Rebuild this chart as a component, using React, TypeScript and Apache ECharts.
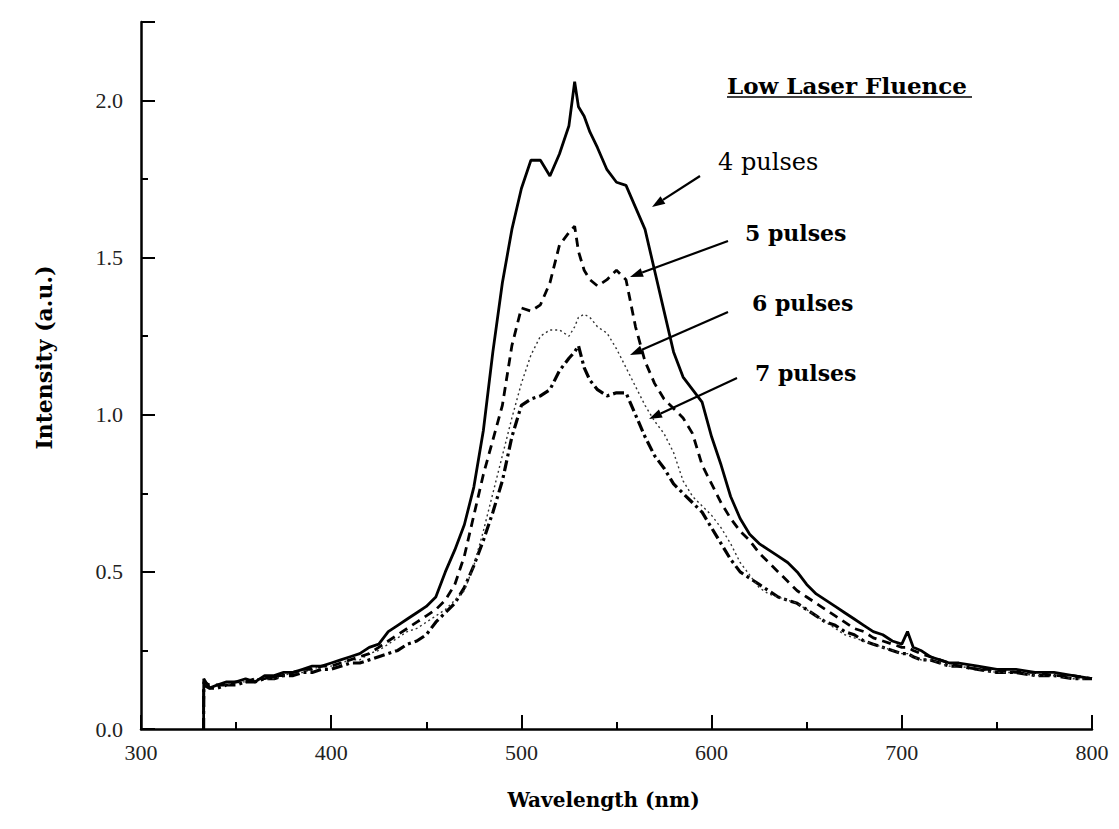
import React, { useEffect, useRef } from "react";
import * as echarts from "echarts";

const wavelengths = [
  332.9, 333, 336, 340, 345, 350, 355, 360, 365, 370, 375, 380, 385, 390, 395, 400,
  405, 410, 415, 420, 425, 430, 435, 440, 445, 450, 455, 460, 465, 470, 475, 480,
  485, 490, 495, 500, 505, 510, 515, 520, 525, 528, 530, 533, 536, 540, 545, 550,
  555, 560, 565, 570, 575, 580, 585, 590, 595, 600, 605, 610, 615, 620, 625, 630,
  635, 640, 645, 650, 655, 660, 665, 670, 675, 680, 685, 690, 695, 700, 703, 706,
  710, 715, 720, 725, 730, 740, 750, 760, 770, 780, 790, 800,
];

const pulses4 = [
  0, 0.16, 0.13, 0.14, 0.15, 0.15, 0.16, 0.15, 0.17, 0.17, 0.18, 0.18, 0.19, 0.2, 0.2, 0.21,
  0.22, 0.23, 0.24, 0.26, 0.27, 0.31, 0.33, 0.35, 0.37, 0.39, 0.42, 0.5, 0.57, 0.65, 0.77, 0.95,
  1.2, 1.42, 1.59, 1.72, 1.81, 1.81, 1.76, 1.83, 1.92, 2.06, 1.98, 1.95, 1.9, 1.85, 1.78, 1.74,
  1.73, 1.66, 1.59, 1.46, 1.33, 1.2, 1.12, 1.08, 1.04, 0.93, 0.84, 0.74, 0.67, 0.62, 0.59, 0.57,
  0.55, 0.53, 0.5, 0.46, 0.43, 0.41, 0.39, 0.37, 0.35, 0.33, 0.31, 0.3, 0.28, 0.27, 0.31, 0.26,
  0.25, 0.23, 0.22, 0.21, 0.21, 0.2, 0.19, 0.19, 0.18, 0.18, 0.17, 0.16,
];

const pulses5 = [
  0, 0.15, 0.14, 0.14, 0.14, 0.15, 0.15, 0.16, 0.16, 0.17, 0.17, 0.18, 0.19, 0.19, 0.2, 0.2,
  0.21, 0.22, 0.23, 0.24, 0.26, 0.28, 0.3, 0.32, 0.34, 0.36, 0.38, 0.41, 0.46, 0.55, 0.68, 0.81,
  0.92, 1.03, 1.22, 1.34, 1.33, 1.35, 1.42, 1.54, 1.58, 1.6, 1.52, 1.46, 1.43, 1.41, 1.43, 1.46,
  1.43, 1.28, 1.17, 1.1, 1.05, 1.02, 0.99, 0.94, 0.84, 0.78, 0.72, 0.67, 0.63, 0.6, 0.56, 0.53,
  0.5, 0.47, 0.44, 0.42, 0.4, 0.38, 0.36, 0.34, 0.32, 0.31, 0.29, 0.28, 0.27, 0.26, 0.26, 0.25,
  0.24, 0.23, 0.22, 0.21, 0.2, 0.19, 0.19, 0.18, 0.18, 0.17, 0.17, 0.16,
];

const pulses6 = [
  0, 0.15, 0.13, 0.14, 0.14, 0.15, 0.15, 0.16, 0.16, 0.16, 0.17, 0.18, 0.18, 0.19, 0.2, 0.2,
  0.21, 0.22, 0.22, 0.24, 0.25, 0.27, 0.29, 0.31, 0.32, 0.34, 0.36, 0.38, 0.41, 0.44, 0.52, 0.63,
  0.75, 0.87, 0.99, 1.1, 1.19, 1.25, 1.27, 1.27, 1.25, 1.28, 1.31, 1.32, 1.31, 1.28, 1.26, 1.21,
  1.15, 1.09, 1.03, 0.98, 0.94, 0.88, 0.79, 0.74, 0.71, 0.68, 0.64, 0.59, 0.53, 0.49, 0.45, 0.43,
  0.42, 0.41, 0.4, 0.38, 0.36, 0.34, 0.32, 0.3, 0.29, 0.28, 0.27, 0.26, 0.25, 0.24, 0.24, 0.23,
  0.22, 0.22, 0.21, 0.2, 0.2, 0.19, 0.18, 0.18, 0.17, 0.17, 0.16, 0.16,
];

const pulses7 = [
  0, 0.14, 0.13, 0.13, 0.14, 0.14, 0.15, 0.15, 0.16, 0.16, 0.17, 0.17, 0.18, 0.18, 0.19, 0.19,
  0.2, 0.21, 0.21, 0.22, 0.23, 0.24, 0.25, 0.27, 0.28, 0.3, 0.34, 0.37, 0.4, 0.45, 0.52, 0.6,
  0.69, 0.79, 0.93, 1.03, 1.05, 1.06, 1.08, 1.14, 1.18, 1.2, 1.22, 1.15, 1.11, 1.08, 1.06, 1.07,
  1.07, 1.0, 0.93, 0.87, 0.83, 0.78, 0.75, 0.72, 0.69, 0.64, 0.59, 0.54, 0.5, 0.48, 0.46, 0.44,
  0.42, 0.41, 0.4, 0.38, 0.36, 0.34, 0.33, 0.31, 0.3, 0.28, 0.27, 0.26, 0.25, 0.24, 0.24, 0.23,
  0.22, 0.22, 0.21, 0.2, 0.2, 0.19, 0.18, 0.18, 0.17, 0.17, 0.16, 0.16,
];

const seriesNames = ["4 pulses", "5 pulses", "6 pulses", "7 pulses"];
const xTicks = [300, 400, 500, 600, 700, 800];
const yTicks = [0.0, 0.5, 1.0, 1.5, 2.0];
const titleText = "Low Laser Fluence";
const xName = "Wavelength (nm)";
const yName = "Intensity (a.u.)";

function arrow(x1: number, y1: number, x2: number, y2: number) {
  const ang = Math.atan2(y2 - y1, x2 - x1);
  const len = 13;
  const half = 4.5;
  const bx = x2 - len * Math.cos(ang);
  const by = y2 - len * Math.sin(ang);
  const px = -Math.sin(ang) * half;
  const py = Math.cos(ang) * half;
  return [
    {
      type: "line",
      shape: { x1, y1, x2: bx, y2: by },
      style: { stroke: "#000", lineWidth: 2.2 },
      silent: true,
    },
    {
      type: "polygon",
      shape: { points: [[x2, y2], [bx + px, by + py], [bx - px, by - py]] },
      style: { fill: "#000" },
      silent: true,
    },
  ];
}

export default function App() {
  const ref = useRef<HTMLDivElement>(null);
  useEffect(() => {
    document.body.style.margin = "0";
    if (!ref.current) return;
    const chart = echarts.init(ref.current, undefined, { renderer: "svg" });
    const pair = (vals: number[]) => wavelengths.map((w, i) => [w, vals[i]]);
    const styles = [
      { type: "solid", width: 2.8, color: "#000" },
      { type: [9, 6], width: 2.8, color: "#000" },
      { type: [2, 3], width: 1.4, color: "#333" },
      { type: [11, 4, 3, 4], width: 3.2, color: "#000" },
    ];
    const data = [pulses4, pulses5, pulses6, pulses7];
    const labelFont = "Liberation Serif";
    const annFont = "DejaVu Serif";
    const txt = (text: string, x: number, y: number, font: string) => ({
      type: "text",
      x,
      y,
      style: {
        text,
        font,
        fill: "#000",
        align: "left",
        verticalAlign: "middle",
        textAlign: "left",
        textVerticalAlign: "middle",
      },
    });
    chart.setOption({
      animation: false,
      backgroundColor: "#fff",
      grid: { left: 141, right: 27, top: 22, bottom: 100, containLabel: false },
      xAxis: {
        type: "value",
        min: 300,
        max: 800,
        interval: 100,
        name: xName,
        nameLocation: "middle",
        nameGap: 61,
        nameTextStyle: {
          fontFamily: annFont,
          fontWeight: "bold",
          fontSize: 20,
          color: "#000",
          padding: [0, 26, 0, 0],
        },
        axisLine: { show: true, lineStyle: { color: "#000", width: 2.5 } },
        axisTick: { show: true, inside: true, length: 14, lineStyle: { color: "#000", width: 2 } },
        minorTick: { show: true, splitNumber: 2, length: 7, lineStyle: { color: "#000", width: 2 } },
        splitLine: { show: false },
        minorSplitLine: { show: false },
        axisLabel: {
          margin: 12,
          fontFamily: labelFont,
          fontSize: 22,
          color: "#222",
          formatter: (v: number) => (xTicks.includes(v) ? String(v) : ""),
        },
      },
      yAxis: {
        type: "value",
        min: 0,
        max: 2.25,
        interval: 0.5,
        name: yName,
        nameLocation: "middle",
        nameRotate: 90,
        nameGap: 86,
        nameTextStyle: {
          fontFamily: annFont,
          fontWeight: "bold",
          fontSize: 22,
          color: "#000",
          padding: [0, 0, 0, 36],
        },
        axisLine: { show: true, lineStyle: { color: "#000", width: 2.5 } },
        axisTick: { show: true, inside: true, length: 14, lineStyle: { color: "#000", width: 2 } },
        minorTick: { show: true, splitNumber: 2, length: 7, lineStyle: { color: "#000", width: 2 } },
        splitLine: { show: false },
        minorSplitLine: { show: false },
        axisLabel: {
          margin: 18,
          fontFamily: labelFont,
          fontSize: 22,
          color: "#222",
          showMaxLabel: false,
          formatter: (v: number) => {
            const t = yTicks.find((y) => Math.abs(y - v) < 1e-9);
            return t === undefined ? "" : t.toFixed(1);
          },
        },
      },
      series: data.map((vals, i) => ({
        name: seriesNames[i],
        type: "line",
        data: pair(vals),
        showSymbol: false,
        symbol: "none",
        smooth: false,
        lineStyle: styles[i],
        z: 10 - i,
      })),
      graphic: [
        txt(titleText, 727, 85, `bold 23px "${annFont}"`),
        {
          type: "line",
          shape: { x1: 727, y1: 97, x2: 972, y2: 97 },
          style: { stroke: "#000", lineWidth: 1.5 },
        },
        txt(seriesNames[0], 718, 162, `24px "${annFont}"`),
        txt(seriesNames[1], 745, 233, `bold 22px "${annFont}"`),
        txt(seriesNames[2], 752, 303, `bold 22px "${annFont}"`),
        txt(seriesNames[3], 755, 373, `bold 22px "${annFont}"`),
        ...arrow(700, 176, 652, 207),
        ...arrow(728, 241, 630, 277),
        ...arrow(728, 312, 630, 355),
        ...arrow(737, 378, 649, 419),
      ],
    });
    return () => chart.dispose();
  }, []);
  return <div ref={ref} style={{ width: 1119, height: 829 }} />;
}
